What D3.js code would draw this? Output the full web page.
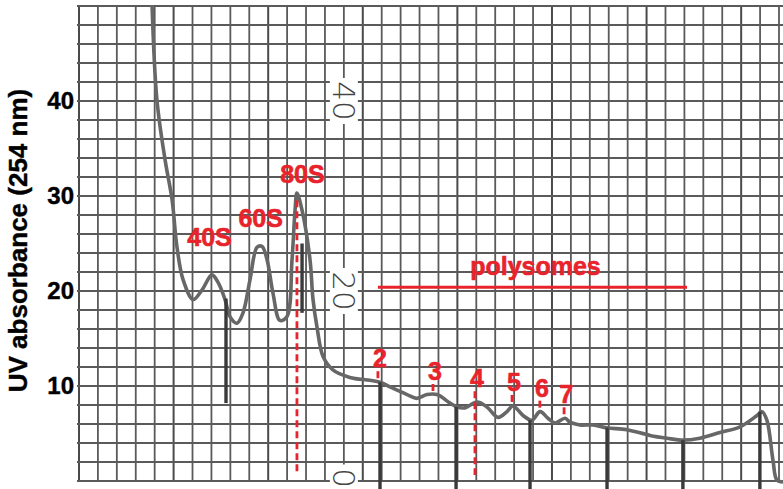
<!DOCTYPE html>
<html>
<head>
<meta charset="utf-8">
<script src="https://cdn.jsdelivr.net/npm/d3@7"></script>
<style>
  html, body { margin: 0; padding: 0; background: #fff; }
  svg { display: block; }
</style>
</head>
<body>
<svg id="chart" width="783" height="489"></svg>
<script>
// Sucrose-gradient polysome profile, UV absorbance at 254 nm.
// x is measured in chart-paper divisions, y in absorbance units.

const traceX = [3.86, 4.12, 4.55, 4.92, 5.18, 5.50, 6.03, 6.50, 7.03, 7.35, 7.72, 7.98, 8.35, 8.67,
  9.04, 9.41, 9.67, 9.94, 10.25, 10.62, 10.99, 11.26, 11.42, 11.52, 11.79, 12.21, 12.37, 12.58,
  12.90, 13.42, 14.32, 15.38, 15.91, 16.44, 17.34, 17.86, 18.39, 18.92, 19.61, 19.98, 20.40,
  21.04, 21.56, 22.15, 22.62, 22.94, 23.47, 23.94, 24.37, 24.79, 25.16, 25.69, 25.95, 26.48,
  27.17, 27.91, 28.96, 30.18, 31.08, 31.92, 32.82, 33.88, 34.94, 35.84, 36.10, 36.36, 36.68,
  36.89, 37.21];
const traceY = [50.1, 40.1, 33.8, 29.6, 24.6, 21.2, 19.1, 20.1, 21.7, 20.9, 19.1, 17.3, 16.6, 17.7,
  21.2, 24.6, 24.7, 23.3, 19.8, 16.9, 17.3, 23.3, 28.5, 30.3, 28.5, 23.3, 19.1, 16.2,
  13.1, 11.7, 10.9, 10.6, 10.4, 9.9, 9.1, 8.7, 9.1, 9.1, 8.2, 7.8, 7.7,
  8.3, 7.8, 6.7, 7.3, 7.9, 6.9, 6.4, 7.3, 6.6, 6.1, 6.6, 6.2, 5.9,
  5.9, 5.6, 5.4, 4.8, 4.5, 4.3, 4.5, 5.1, 5.7, 6.9, 7.3, 6.4, 2.2,
  0.1, -0.1];

// Fraction-collector event marks drawn by the recorder pen
const markerX = [7.77, 11.79, 15.91, 19.93, 23.84, 27.91, 31.92, 35.99];
const markerTop = [19.2, 25.0, 10.4, 7.8, 6.4, 5.6, 4.3, 7.3];
const markerLow = [8.2, 17.7, -0.85, -0.85, -0.85, -0.85, -0.85, -0.85];

// Ribosomal subunit peaks
const subunitNames = ["40S", "60S", "80S"];
const subunitX = [7.03, 9.60, 11.52];
const subunitY = [21.7, 24.7, 30.3];

// Polysome peaks (number of ribosomes per mRNA)
const polyNames = ["2", "3", "4", "5", "6", "7"];
const polyX = [15.80, 18.71, 20.93, 22.89, 24.36, 25.64];
const polyY = [10.4, 9.05, 8.3, 7.9, 7.3, 6.6];
const polysomeSpan = [15.80, 32.14];
const polysomeLevel = 20.4;

// Axis ticks and the scale printed on the chart paper
const yTicks = [10, 20, 30, 40];
const paperTicks = [0, 20, 40];

const RED = "#e8232b";
const FONT = "'Liberation Sans', Arial, Helvetica, sans-serif";

const svg = d3.select("#chart");
const x = d3.scaleLinear().domain([0, 37]).range([79, 779]);
const y = d3.scaleLinear().domain([0, 50]).range([481, 6]);

// ---- chart paper grid ----
const grid = svg.append("g");
grid.selectAll("line.v")
  .data(d3.range(0, 38))
  .join("line")
  .attr("x1", d => x(d)).attr("x2", d => x(d))
  .attr("y1", y(50) - 1).attr("y2", y(0) + 1)
  .attr("stroke", d => d % 5 === 0 ? "#4a4a4a" : "#5a5a5a")
  .attr("stroke-width", d => d % 5 === 0 ? 2.0 : 1.8);
grid.selectAll("line.h")
  .data(d3.range(0, 51, 2))
  .join("line")
  .attr("x1", x(0) - 2).attr("x2", 783)
  .attr("y1", d => y(d)).attr("y2", d => y(d))
  .attr("stroke", "#5a5a5a")
  .attr("stroke-width", 1.8);

// scale printed on the paper, rotated along a grid line
const paper = svg.append("g");
paperTicks.forEach(v => {
  const g = paper.append("g").attr("transform", `translate(${x(14)},${y(v) - (v === 0 ? 3 : 0)}) rotate(90)`);
  const s = String(v);
  const w = s.length * 19 + 8;
  g.append("rect").attr("x", -w / 2).attr("y", -14).attr("width", w).attr("height", 28).attr("fill", "#fff");
  g.append("text")
    .attr("text-anchor", "middle")
    .attr("dominant-baseline", "central")
    .attr("font-family", "'DejaVu Sans', sans-serif")
    .attr("font-weight", 200)
    .attr("font-size", 31)
    .attr("fill", "#444")
    .text(s);
});

// ---- recorder trace ----
const pts = traceX.map((d, i) => [d, traceY[i]]);
svg.append("path")
  .datum(pts)
  .attr("fill", "none")
  .attr("stroke", "#676767")
  .attr("stroke-width", 3.6)
  .attr("stroke-linejoin", "round")
  .attr("d", d3.line().x(d => x(d[0])).y(d => y(d[1])).curve(d3.curveCatmullRom.alpha(0.5)));

svg.append("g").selectAll("line")
  .data(markerX)
  .join("line")
  .attr("x1", d => x(d)).attr("x2", d => x(d))
  .attr("y1", (d, i) => y(markerTop[i])).attr("y2", (d, i) => y(markerLow[i]))
  .attr("stroke", "#3a3a3a")
  .attr("stroke-width", 3.4);

// ---- y axis ----
const yAxis = svg.append("g")
  .attr("transform", `translate(${x(0)},0)`)
  .call(d3.axisLeft(y).tickValues(yTicks).tickSize(0).tickPadding(5));
yAxis.select(".domain").remove();
yAxis.selectAll("text")
  .attr("font-family", FONT)
  .attr("font-weight", "bold")
  .attr("font-size", 24)
  .attr("fill", "#000")
  .attr("stroke", "#000")
  .attr("stroke-width", 0.4);

svg.append("text")
  .attr("transform", `translate(27,${(y(0) + y(50)) / 2 - 3}) rotate(-90)`)
  .attr("text-anchor", "middle")
  .attr("font-family", FONT)
  .attr("font-weight", "bold")
  .attr("font-size", 26)
  .attr("fill", "#000")
  .attr("stroke", "#000")
  .attr("stroke-width", 0.4)
  .text("UV absorbance (254 nm)");

// ---- annotations ----
const ann = svg.append("g")
  .attr("font-family", FONT)
  .attr("font-weight", "bold")
  .attr("font-size", 25)
  .attr("fill", RED)
  .attr("stroke", RED)
  .attr("stroke-width", 0.6);

const subunitOffset = [[-2.5, -29], [0, -19], [5.5, -10]];
ann.selectAll("text.sub")
  .data(subunitNames)
  .join("text")
  .attr("text-anchor", "middle")
  .attr("x", (d, i) => x(subunitX[i]) + subunitOffset[i][0])
  .attr("y", (d, i) => y(subunitY[i]) + subunitOffset[i][1])
  .text(d => d);

// 80S marker line down to the baseline
svg.append("line")
  .attr("x1", x(subunitX[2])).attr("x2", x(subunitX[2]))
  .attr("y1", y(subunitY[2]) + 7).attr("y2", y(0) - 6)
  .attr("stroke", RED).attr("stroke-width", 2.8)
  .attr("stroke-dasharray", "7,4");

// polysome bracket
svg.append("line")
  .attr("x1", x(polysomeSpan[0])).attr("x2", x(polysomeSpan[1]))
  .attr("y1", y(polysomeLevel)).attr("y2", y(polysomeLevel))
  .attr("stroke", RED).attr("stroke-width", 3);
ann.append("text")
  .attr("text-anchor", "middle")
  .attr("x", x((polysomeSpan[0] + polysomeSpan[1]) / 2) + 3)
  .attr("y", y(polysomeLevel) - 12)
  .text("polysomes");

// polysome peak numbers with ticks
polyNames.forEach((name, i) => {
  const px = x(polyX[i]);
  const py = y(polyY[i]);
  if (name === "4") {
    svg.append("line")
      .attr("x1", px).attr("x2", px)
      .attr("y1", py - 11).attr("y2", y(0) - 6)
      .attr("stroke", RED).attr("stroke-width", 2.8)
      .attr("stroke-dasharray", "7,4");
  } else {
    svg.append("line")
      .attr("x1", px).attr("x2", px)
      .attr("y1", py - 11).attr("y2", py - 4)
      .attr("stroke", RED).attr("stroke-width", 2.8);
  }
  ann.append("text")
    .attr("text-anchor", "middle")
    .attr("x", px + 2)
    .attr("y", py - 15)
    .text(name);
});
</script>
</body>
</html>
